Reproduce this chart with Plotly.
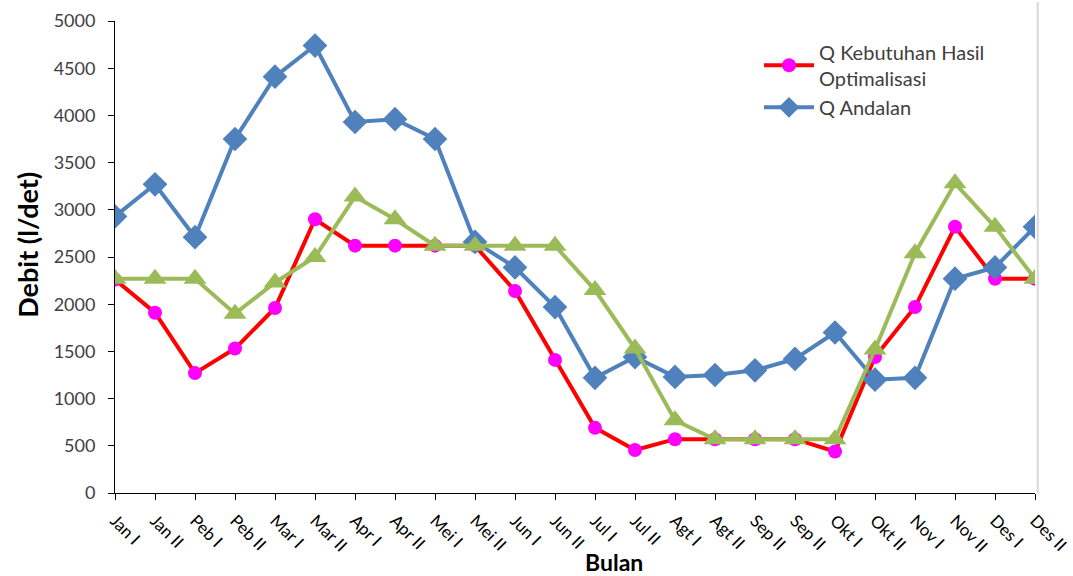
import plotly.graph_objects as go

labels = ["Jan I", "Jan II", "Peb I", "Peb II", "Mar I", "Mar II", "Apr I", "Apr II",
          "Mei I", "Mei II", "Jun I", "Jun II", "Jul I", "Jul II", "Agt I", "Agt II",
          "Sep II", "Sep II", "Okt I", "Okt II", "Nov I", "Nov II", "Des I", "Des II"]

q_kebutuhan = [2260, 1910, 1270, 1530, 1960, 2900, 2620, 2620, 2620, 2620, 2140, 1410,
               690, 455, 570, 570, 570, 570, 440, 1440, 1970, 2820, 2270, 2270]
q_andalan = [2930, 3270, 2710, 3750, 4410, 4740, 3930, 3960, 3750, 2660, 2390, 1970,
             1220, 1440, 1230, 1250, 1300, 1420, 1700, 1200, 1220, 2270, 2390, 2820]
q_ketiga = [2270, 2270, 2270, 1900, 2230, 2500, 3140, 2900, 2620, 2620, 2620, 2620,
            2150, 1530, 770, 570, 570, 570, 570, 1520, 2540, 3280, 2820, 2270]

x = list(range(len(labels)))
font = "Lato, Liberation Sans, sans-serif"

fig = go.Figure()
fig.add_trace(go.Scatter(x=x, y=q_kebutuhan, mode="lines+markers",
                         name="Q Kebutuhan Hasil<br>Optimalisasi",
                         line=dict(color="#FF0000", width=4),
                         marker=dict(symbol="circle", size=14, color="#FF00FF")))
fig.add_trace(go.Scatter(x=x, y=q_andalan, mode="lines+markers", name="Q Andalan",
                         line=dict(color="#4F81BD", width=4),
                         marker=dict(symbol="diamond", size=19, color="#4F81BD")))
fig.add_trace(go.Scatter(x=x, y=q_ketiga, mode="lines+markers", name="Q",
                         showlegend=False,
                         line=dict(color="#9BBB59", width=4),
                         marker=dict(symbol="triangle-up", size=20, color="#9BBB59")))

fig.update_layout(
    width=1073, height=576,
    margin=dict(l=115, r=38, t=21, b=83),
    plot_bgcolor="white", paper_bgcolor="white",
    font=dict(family=font, color="#404040"),
    showlegend=True,
    legend=dict(x=0.7, y=0.975, xanchor="left", yanchor="top",
                bgcolor="rgba(0,0,0,0)", font=dict(size=20, color="#404040"),
                itemwidth=50, tracegroupgap=0),
    xaxis=dict(range=[0, 23], tickmode="array", tickvals=x, ticktext=labels,
               tickangle=45, tickfont=dict(size=17, color="#000000"), automargin=False,
               ticklabelstandoff=4,
               showgrid=False, zeroline=False, showline=True, linecolor="#000000",
               linewidth=1, ticks="outside", ticklen=6, tickcolor="#000000"),
    yaxis=dict(range=[0, 5000], dtick=500, tickfont=dict(size=18, color="#404040"),
               automargin=False, ticklabelstandoff=9,
               showgrid=False, zeroline=False, showline=True, linecolor="#000000",
               linewidth=1, ticks="outside", ticklen=6, tickcolor="#000000"),
    shapes=[dict(type="line", xref="paper", yref="paper", x0=1.003, x1=1.003, y0=0, y1=1.04,
                 line=dict(color="#D9D9D9", width=2))],
    annotations=[
        dict(text="<b>Bulan</b>", xref="paper", yref="paper", x=0.542, y=-0.146,
             xanchor="center", yanchor="middle", showarrow=False,
             font=dict(size=23, color="#000000")),
        dict(text="<b>Debit (l/det)</b>", xref="paper", yref="paper", x=-0.095, y=0.525,
             xanchor="center", yanchor="middle", showarrow=False, textangle=-90,
             font=dict(size=27, color="#000000")),
    ],
)

fig.write_html("out.html", config={"displayModeBar": False},
               post_script="document.body.style.margin='0';document.body.style.overflow='hidden';")
